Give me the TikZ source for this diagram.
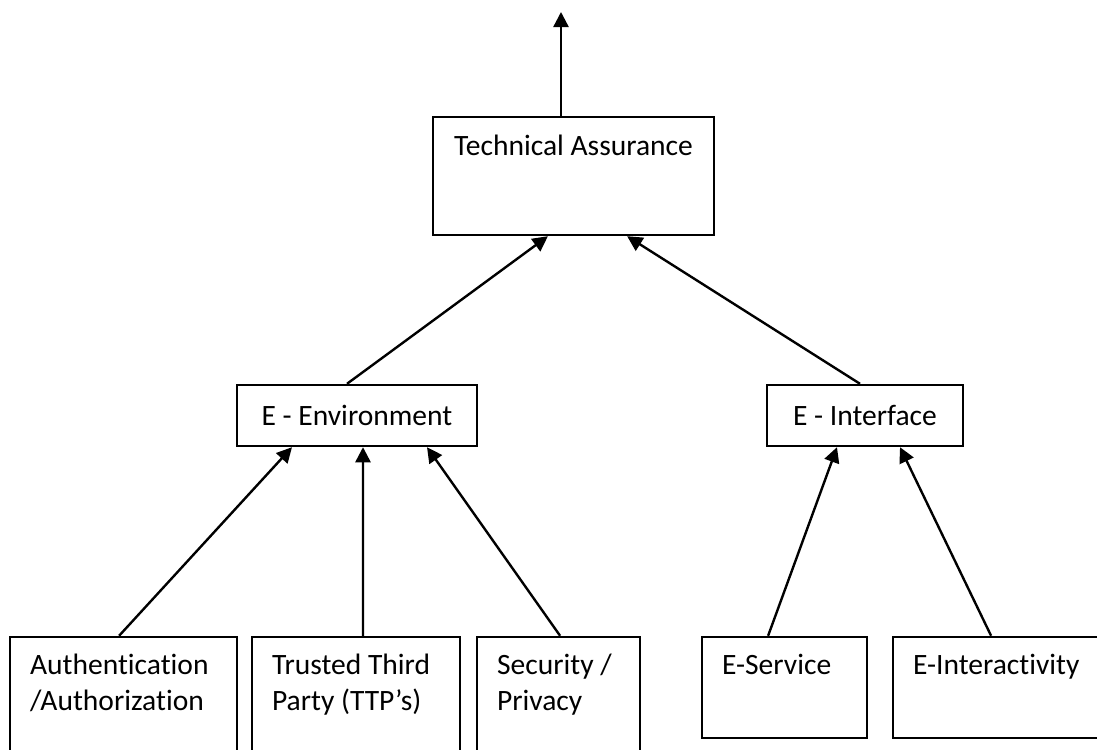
\documentclass[tikz,border=0pt]{standalone}
\usepackage{fontspec}
\setmainfont[Ligatures=NoCommon]{Carlito}
\usetikzlibrary{arrows.meta}

\tikzset{
  box/.style={draw, line width=1.7pt, inner sep=0pt},
  lbl/.style={inner sep=0pt, font=\fontsize{21}{25}\selectfont},
  btxt/.style={lbl, align=left, anchor=base west, xshift=0.525cm, yshift=#1},
  btxt/.default=-0.975cm,
  arr/.style={line width=1.7pt, -{Triangle[length=0.38cm, width=0.38cm]}}
}

\begin{document}
\begin{tikzpicture}[x=0.025cm, y=-0.025cm]
\useasboundingbox (0,0) rectangle (1097,749);
% top level
\node[box, minimum width=7.025cm, minimum height=2.95cm,
  label={[lbl, anchor=base, yshift=-1cm]north:Technical Assurance}] (ta) at (573.5,176) {};
\coordinate (out) at (561,12);
\draw[arr] (ta.north -| out) -- (out);
% middle level
\node[box, minimum width=6cm, minimum height=1.525cm, font=\fontsize{21}{25}\selectfont] (env) at (357,415.5) {E - Environment};
\node[box, minimum width=4.9cm, minimum height=1.525cm, font=\fontsize{21}{25}\selectfont] (intf) at (865,415.5) {E - Interface};
\draw[arr] ([xshift=-0.25cm]env.north) -- ([xshift=-0.64cm]ta.south);
\draw[arr] ([xshift=-0.125cm]intf.north) -- ([xshift=1.34cm]ta.south);
% bottom level
\node[box, minimum width=5.675cm, minimum height=3.575cm,
  label={[btxt=-1.857cm]north west:{Authentication\\/Authorization}}] (auth) at (123.5,708.5) {};
\node[box, minimum width=5.2cm, minimum height=3.575cm,
  label={[btxt=-1.857cm]north west:{Trusted Third\\Party (TTP’s)}}] (ttp) at (356,708.5) {};
\node[box, minimum width=4.075cm, minimum height=3.575cm,
  label={[btxt=-1.857cm]north west:{Security /\\Privacy}}] (sec) at (558.5,708.5) {};
\node[box, minimum width=4.125cm, minimum height=2.525cm,
  label={[btxt]north west:{E-Service}}] (esrv) at (784.5,687.5) {};
\node[box, minimum width=5.425cm, minimum height=2.525cm,
  label={[btxt]north west:{E-Interactivity}}] (eint) at (1001.5,687.5) {};
\draw[arr] ([xshift=-0.11cm]auth.north) -- ([xshift=-1.625cm]env.south);
\draw[arr] ([xshift=0.175cm]ttp.north) -- ([xshift=0.15cm]env.south);
\draw[arr] ([xshift=0.04cm]sec.north) -- ([xshift=1.75cm]env.south);
\draw[arr] ([xshift=-0.41cm]esrv.north) -- ([xshift=-0.7cm]intf.south);
\draw[arr] ([xshift=-0.26cm]eint.north) -- ([xshift=0.875cm]intf.south);
\end{tikzpicture}
\end{document}
